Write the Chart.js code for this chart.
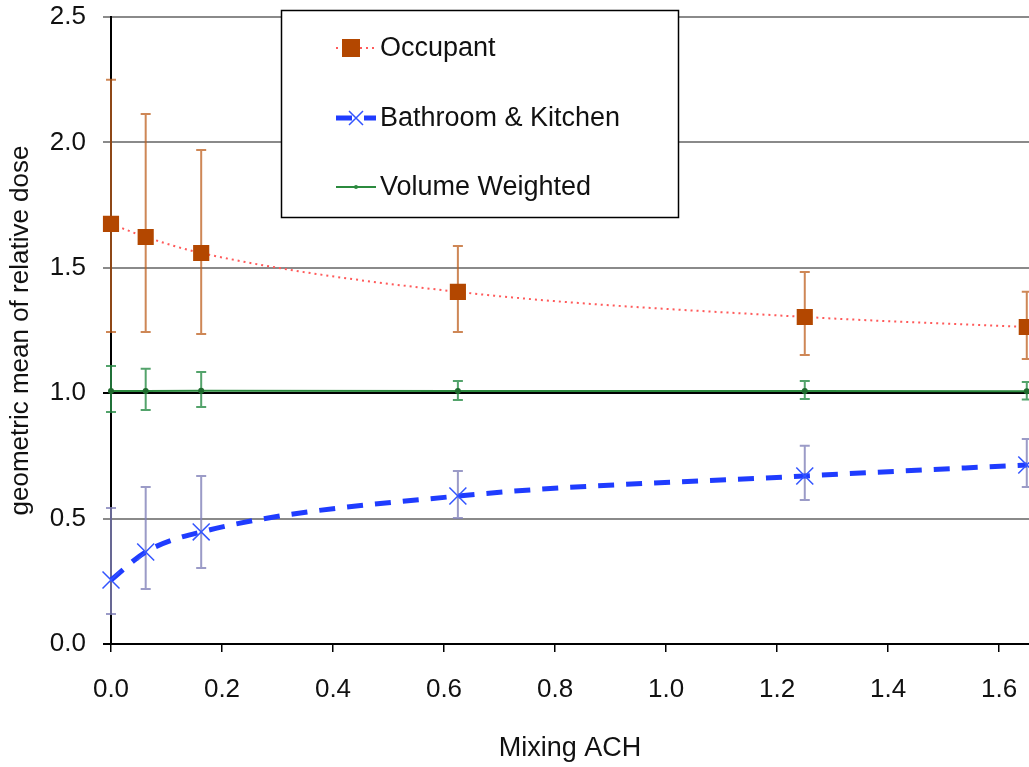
<!DOCTYPE html>
<html>
<head>
<meta charset="utf-8">
<script src="https://cdn.jsdelivr.net/npm/chart.js@4.4.0/dist/chart.umd.min.js"></script>
<style>
  html, body { margin: 0; padding: 0; background: #fff; overflow: hidden; }
  #wrap { position: absolute; left: 0; top: 0; width: 1029px; height: 767px; }
</style>
</head>
<body>
<div id="wrap"><canvas id="myChart"></canvas></div>
<script>
// data
var mixingACH = [0, 0.0625, 0.1625, 0.625, 1.25, 1.65];

var occupant    = [1.675, 1.623, 1.559, 1.404, 1.304, 1.264];
var occupantHi  = [2.25, 2.113, 1.97, 1.587, 1.483, 1.405];
var occupantLo  = [1.244, 1.244, 1.236, 1.244, 1.152, 1.136];

var bathKitchen   = [0.255, 0.367, 0.447, 0.59, 0.67, 0.714];
var bathKitchenHi = [0.542, 0.626, 0.67, 0.69, 0.79, 0.817];
var bathKitchenLo = [0.12, 0.219, 0.303, 0.502, 0.574, 0.626];

var volumeWeighted   = [1.009, 1.009, 1.01, 1.009, 1.009, 1.008];
var volumeWeightedHi = [1.108, 1.097, 1.085, 1.049, 1.049, 1.045];
var volumeWeightedLo = [0.925, 0.933, 0.945, 0.973, 0.977, 0.975];

var xTicks = [0, 0.2, 0.4, 0.6, 0.8, 1.0, 1.2, 1.4, 1.6];
var yTicks = [0, 0.5, 1.0, 1.5, 2.0, 2.5];

var FONT = 'Liberation Sans, Arial, sans-serif';

function points(ys){
    var out = [];
    for (var i = 0; i < mixingACH.length; i++) out.push({x: mixingACH[i], y: ys[i]});
    return out;
}

// error bars, drawn behind the lines
var errorBars = {
    id: 'errorBars',
    beforeDatasetsDraw: function(chart){
        var ctx = chart.ctx;
        var xs = chart.scales.x, ys = chart.scales.y;
        chart.data.datasets.forEach(function(ds){
            ctx.save();
            ctx.strokeStyle = ds.errColor;
            ctx.lineWidth = 2;
            for (var i = 0; i < mixingACH.length; i++){
                var px = xs.getPixelForValue(mixingACH[i]);
                var top = ys.getPixelForValue(ds.errHi[i]);
                var bot = ys.getPixelForValue(ds.errLo[i]);
                ctx.beginPath();
                ctx.moveTo(px, top); ctx.lineTo(px, bot);
                ctx.moveTo(px - 5, top); ctx.lineTo(px + 5, top);
                ctx.moveTo(px - 5, bot); ctx.lineTo(px + 5, bot);
                ctx.stroke();
            }
            ctx.restore();
        });
    }
};

// boxed legend like the original
var boxLegend = {
    id: 'boxLegend',
    afterDraw: function(chart){
        var ctx = chart.ctx;
        ctx.save();
        ctx.fillStyle = '#fff';
        ctx.fillRect(281, 10, 398, 208);
        ctx.strokeStyle = '#000';
        ctx.lineWidth = 1.5;
        ctx.strokeRect(281.5, 10.5, 397, 207);

        var rows = [48, 118, 187];
        var ds = chart.data.datasets;
        ctx.font = '27px ' + FONT;
        ctx.textBaseline = 'middle';
        for (var i = 0; i < ds.length; i++){
            var y = rows[i];
            ctx.strokeStyle = ds[i].borderColor;
            ctx.lineWidth = ds[i].borderWidth;
            ctx.setLineDash(ds[i].borderDash || []);
            ctx.beginPath();
            ctx.moveTo(336, y); ctx.lineTo(376, y);
            ctx.stroke();
            ctx.setLineDash([]);
            if (i == 0){
                ctx.fillStyle = ds[i].pointBackgroundColor;
                ctx.fillRect(342, y - 9, 18, 18);
            } else if (i == 1){
                ctx.strokeStyle = '#3355ff';
                ctx.lineWidth = 1.5;
                ctx.beginPath();
                ctx.moveTo(349, y - 7); ctx.lineTo(363, y + 7);
                ctx.moveTo(363, y - 7); ctx.lineTo(349, y + 7);
                ctx.stroke();
            } else {
                ctx.fillStyle = ds[i].borderColor;
                ctx.beginPath(); ctx.arc(356, y, 2, 0, Math.PI * 2); ctx.fill();
            }
            ctx.fillStyle = '#111';
            ctx.fillText(ds[i].label, 380, y + 1);
        }
        ctx.restore();
    }
};

var ctx = document.getElementById('myChart').getContext('2d');
var chart = new Chart(ctx, {
    type: 'line',
    data: {
        datasets: [{
            label: 'Occupant',
            data: points(occupant),
            borderColor: '#ff5a5a',
            borderWidth: 2,
            borderDash: [2, 4],
            pointStyle: 'rect',
            pointRadius: 10,
            pointBackgroundColor: '#b34700',
            pointBorderColor: '#b34700',
            cubicInterpolationMode: 'monotone',
            clip: false,
            errHi: occupantHi, errLo: occupantLo, errColor: 'rgba(190,95,30,0.75)'
        }, {
            label: 'Bathroom & Kitchen',
            data: points(bathKitchen),
            borderColor: '#1f3cff',
            borderWidth: 5,
            borderDash: [16, 12],
            pointStyle: 'cross',
            rotation: 45,
            pointRadius: 12,
            pointBorderWidth: 1.5,
            pointBorderColor: '#3355ff',
            cubicInterpolationMode: 'monotone',
            clip: false,
            errHi: bathKitchenHi, errLo: bathKitchenLo, errColor: 'rgba(130,130,185,0.8)'
        }, {
            label: 'Volume Weighted',
            data: points(volumeWeighted),
            borderColor: '#2b8a3e',
            borderWidth: 2,
            pointRadius: 2,
            pointBackgroundColor: '#1f6b2e',
            pointBorderColor: '#1f6b2e',
            clip: false,
            errHi: volumeWeightedHi, errLo: volumeWeightedLo, errColor: 'rgba(40,140,70,0.8)'
        }]
    },
    options: {
        responsive: true,
        maintainAspectRatio: false,
        devicePixelRatio: 1,
        animation: false,
        layout: { autoPadding: false, padding: { top: 17, right: 0, left: 0, bottom: 0 } },
        plugins: { legend: { display: false }, tooltip: { enabled: false } },
        scales: {
            x: {
                type: 'linear',
                min: 0,
                max: 1.654,
                afterBuildTicks: function(s){ s.ticks = xTicks.map(function(v){ return {value: v}; }); },
                afterFit: function(s){ s.height = 123; s.paddingLeft = 0; s.paddingRight = 0; },
                ticks: {
                    color: '#111',
                    font: { family: FONT, size: 26 },
                    padding: 22,
                    maxRotation: 0,
                    callback: function(v){ return v.toFixed(1); }
                },
                grid: { drawOnChartArea: false, drawTicks: true, tickLength: 8, color: '#000', lineWidth: 1.5 },
                border: { color: '#000', width: 2 },
                title: {
                    display: true, text: 'Mixing ACH', color: '#111',
                    font: { family: FONT, size: 27 }, padding: { top: 0, bottom: 2 }
                }
            },
            y: {
                min: 0,
                max: 2.5,
                afterBuildTicks: function(s){ s.ticks = yTicks.map(function(v){ return {value: v}; }); },
                afterFit: function(s){ s.width = 111; s.paddingTop = 0; s.paddingBottom = 0; },
                ticks: {
                    color: '#111',
                    font: { family: FONT, size: 26 },
                    padding: 17,
                    callback: function(v){ return v.toFixed(1); }
                },
                grid: {
                    tickLength: 8,
                    lineWidth: 2,
                    color: function(c){ return (c.tick && (c.tick.value == 1 || c.tick.value == 0)) ? '#000' : '#8a8a8a'; }
                },
                border: { color: '#000', width: 2 },
                title: {
                    display: true, text: 'geometric mean of relative dose', color: '#111',
                    font: { family: FONT, size: 26 }, padding: { top: 5, bottom: 0 }
                }
            }
        }
    },
    plugins: [errorBars, boxLegend]
});
</script>
</body>
</html>
